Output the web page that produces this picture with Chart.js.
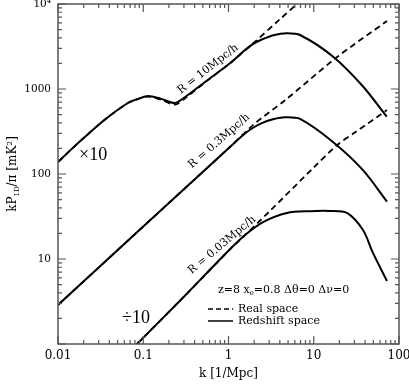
<!DOCTYPE html>
<html>
<head>
<meta charset="utf-8">
<script src="https://cdn.jsdelivr.net/npm/chart.js@4.4.0/dist/chart.umd.min.js"></script>
<style>
  html, body { margin: 0; padding: 0; background: #fff; }
</style>
</head>
<body>
<canvas id="pk" width="409" height="390"></canvas>
<script>
// k in 1/Mpc, values are kP_1D/pi in mK^2
// R = 10 Mpc/h, multiplied by 10
const kTopZ = [0.01, 0.014, 0.02, 0.035, 0.066, 0.09, 0.114, 0.16, 0.235, 0.31, 0.55, 1.04, 1.5, 1.95, 2.5, 3.36, 4.82, 6.9, 16.9, 38.1, 71.8];
const pTopZ = [138, 191, 265, 432, 684, 775, 827, 770, 684, 805, 1242, 2006, 2780, 3400, 3850, 4300, 4522, 4317, 2399, 1064, 472];
const kTopR = [0.01, 0.014, 0.02, 0.035, 0.066, 0.09, 0.114, 0.16, 0.235, 0.31, 0.55, 1.04, 1.95, 4, 6.37, 12];
const pTopR = [138, 191, 265, 432, 684, 770, 815, 750, 655, 780, 1230, 2006, 3450, 6600, 10000, 17500];

// R = 0.3 Mpc/h
const kMidZ = [0.01, 0.1, 1.04, 1.5, 1.94, 2.5, 3.33, 4.6, 6.9, 16.8, 37.8, 72.3];
const pMidZ = [2.88, 24.1, 208, 290, 350, 400, 440, 464, 444, 238, 111, 47.2];
const kMidR = [0.01, 0.1, 1.04, 2, 4.6, 18.8, 72.3];
const pMidR = [2.88, 24.1, 208, 387, 736, 2378, 6310];

// R = 0.03 Mpc/h, divided by 10
const kBotZ = [0.07, 0.0845, 0.3, 1.04, 1.6, 2.54, 4.85, 9, 15.5, 24.5, 37.8, 49.5, 72.3];
const pBotZ = [0.83, 1, 3.6, 13, 19.5, 27.2, 34.8, 36.5, 36.7, 34.8, 21.9, 11.8, 5.5];
const kBotR = [0.07, 0.0845, 0.3, 1.04, 1.36, 3, 9.8, 18.8, 30, 72.3];
const pBotR = [0.83, 1, 3.6, 13, 16.7, 36, 117, 219, 305, 566];

const xTickValues = [0.01, 0.1, 1, 10, 100];
const xTickLabels = ['0.01', '0.1', '1', '10', '100'];
const yTickValues = [10, 100, 1000, 10000];
const yTickLabels = ['10', '100', '1000', '10\u2074'];

const serif = '"DejaVu Serif", serif';

function pts(ks, ps) {
  return ks.map((k, i) => ({ x: k, y: ps[i] }));
}

function curve(ks, ps, dashed) {
  return {
    data: pts(ks, ps),
    borderColor: '#000',
    borderWidth: dashed ? 1.8 : 2,
    borderDash: dashed ? [6, 4] : [],
    pointRadius: 0,
    fill: false,
    tension: 0.3
  };
}

// text labels, placed in data coordinates
const notes = [
  { text: '\u00d710', k: 0.0258, p: 167, angle: 0, font: '18px "Liberation Serif", serif' },
  { text: '\u00f710', k: 0.0823, p: 2.02, angle: 0, font: '18px "Liberation Serif", serif' },
  { text: 'R = 10Mpc/h', k: 0.575, p: 1719, angle: -38, font: '11px ' + serif },
  { text: 'R = 0.3Mpc/h', k: 0.774, p: 244, angle: -41, font: '11px ' + serif },
  { text: 'R = 0.03Mpc/h', k: 0.839, p: 14.6, angle: -40, font: '11px ' + serif }
];

const overlay = {
  id: 'overlay',
  afterDatasetsDraw(chart) {
    const { ctx, chartArea: a, scales: { x, y } } = chart;
    ctx.save();
    ctx.strokeStyle = '#555';
    ctx.lineWidth = 1.5;
    ctx.setLineDash([]);
    ctx.strokeRect(a.left, a.top, a.right - a.left, a.bottom - a.top);

    ctx.lineWidth = 1.2;
    ctx.beginPath();
    for (let d = -2; d <= 1; d++) {
      for (let m = 1; m <= 10; m++) {
        const px = x.getPixelForValue(m * Math.pow(10, d));
        const len = (m === 1 || m === 10) ? 8 : 4;
        ctx.moveTo(px, a.bottom); ctx.lineTo(px, a.bottom - len);
        ctx.moveTo(px, a.top); ctx.lineTo(px, a.top + len);
      }
    }
    for (let d = 0; d <= 3; d++) {
      for (let m = 1; m <= 10; m++) {
        const py = y.getPixelForValue(m * Math.pow(10, d));
        const len = (m === 1 || m === 10) ? 8 : 4;
        ctx.moveTo(a.left, py); ctx.lineTo(a.left + len, py);
        ctx.moveTo(a.right, py); ctx.lineTo(a.right - len, py);
      }
    }
    ctx.stroke();

    ctx.fillStyle = '#000';
    ctx.textAlign = 'center';
    ctx.textBaseline = 'middle';
    notes.forEach(n => {
      ctx.save();
      ctx.translate(x.getPixelForValue(n.k), y.getPixelForValue(n.p));
      ctx.rotate(n.angle * Math.PI / 180);
      ctx.font = n.font;
      ctx.fillText(n.text, 0, 0);
      ctx.restore();
    });

    // legend box
    const lx = x.getPixelForValue(0.575), ly = y.getPixelForValue(4.32);
    ctx.font = '11px ' + serif;
    ctx.textAlign = 'left';
    ctx.fillText('z=8 x', lx + 10, ly);
    let w = ctx.measureText('z=8 x').width;
    ctx.font = '7px ' + serif;
    ctx.fillText('e', lx + 10 + w, ly + 3);
    w += ctx.measureText('e').width;
    ctx.font = '11px ' + serif;
    ctx.fillText('=0.8 \u0394\u03b8=0 \u0394\u03bd=0', lx + 10 + w, ly);

    ctx.strokeStyle = '#000';
    ctx.lineWidth = 1.5;
    ctx.setLineDash([5, 3]);
    ctx.beginPath(); ctx.moveTo(lx, ly + 19); ctx.lineTo(lx + 25, ly + 19); ctx.stroke();
    ctx.setLineDash([]);
    ctx.beginPath(); ctx.moveTo(lx, ly + 31); ctx.lineTo(lx + 25, ly + 31); ctx.stroke();
    ctx.fillText('Real space', lx + 30, ly + 19);
    ctx.fillText('Redshift space', lx + 30, ly + 31);

    // axis titles
    ctx.font = '12px ' + serif;
    ctx.textAlign = 'center';
    ctx.fillText('k [1/Mpc]', (a.left + a.right) / 2, a.bottom + 30);

    ctx.save();
    ctx.translate(13, (a.top + a.bottom) / 2);
    ctx.rotate(-Math.PI / 2);
    const parts = [
      { t: 'kP', f: '12px ' + serif, dy: 0 },
      { t: '1D', f: '7px ' + serif, dy: 4 },
      { t: '/\u03c0 [mK\u00b2]', f: '12px ' + serif, dy: 0 }
    ];
    let total = 0;
    parts.forEach(p => { ctx.font = p.f; p.w = ctx.measureText(p.t).width; total += p.w; });
    let cx = -total / 2;
    ctx.textAlign = 'left';
    parts.forEach(p => { ctx.font = p.f; ctx.fillText(p.t, cx, p.dy); cx += p.w; });
    ctx.restore();

    ctx.restore();
  }
};

new Chart(document.getElementById('pk'), {
  type: 'line',
  data: {
    datasets: [
      curve(kTopZ, pTopZ, false),
      curve(kTopR, pTopR, true),
      curve(kMidZ, pMidZ, false),
      curve(kMidR, pMidR, true),
      curve(kBotZ, pBotZ, false),
      curve(kBotR, pBotR, true)
    ]
  },
  options: {
    responsive: false,
    devicePixelRatio: 1,
    animation: false,
    layout: { padding: { top: 4, right: 10, bottom: 0, left: 0 } },
    plugins: { legend: { display: false }, tooltip: { enabled: false } },
    scales: {
      x: {
        type: 'logarithmic',
        min: 0.01,
        max: 100,
        grid: { display: false, drawTicks: false },
        border: { display: false },
        afterBuildTicks: s => { s.ticks = xTickValues.map(v => ({ value: v })); },
        afterFit: s => { s.height = 46; s.paddingLeft = 0; s.paddingRight = 0; },
        ticks: {
          autoSkip: false,
          maxRotation: 0,
          padding: 5,
          color: '#000',
          font: { family: serif, size: 12 },
          callback: v => xTickLabels[xTickValues.indexOf(v)]
        }
      },
      y: {
        type: 'logarithmic',
        min: 1,
        max: 10000,
        grid: { display: false, drawTicks: false },
        border: { display: false },
        afterBuildTicks: s => { s.ticks = yTickValues.map(v => ({ value: v })); },
        afterFit: s => { s.width = 58; s.paddingTop = 0; s.paddingBottom = 0; },
        ticks: {
          autoSkip: false,
          padding: 7,
          color: '#000',
          font: { family: serif, size: 10.5 },
          callback: v => yTickLabels[yTickValues.indexOf(v)]
        }
      }
    }
  },
  plugins: [overlay]
});
</script>
</body>
</html>
